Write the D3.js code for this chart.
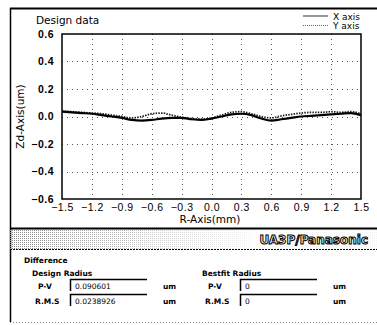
<!DOCTYPE html>
<html>
<head>
<meta charset="utf-8">
<script src="https://cdn.jsdelivr.net/npm/d3@7"></script>
<style>
  body { margin: 0; background: #fff; }
  svg { display: block; font-family: "DejaVu Sans", sans-serif; }
</style>
</head>
<body>
<div id="chart"></div>
<script>
// R positions (mm) and measured profiles (um)
const rValues = [-1.5, -1.4, -1.3, -1.2, -1.1, -1.0, -0.9, -0.8, -0.7, -0.6, -0.5, -0.4, -0.3, -0.2, -0.1,
  0.0, 0.1, 0.2, 0.3, 0.4, 0.5, 0.6, 0.7, 0.8, 0.9, 1.0, 1.1, 1.2, 1.3, 1.4, 1.5];
const xAxisValues = [0.035, 0.03, 0.025, 0.02, 0.01, 0.0, -0.01, -0.025, -0.03, -0.025, -0.015, -0.01, -0.01, -0.02, -0.025,
  -0.015, 0.0, 0.015, 0.02, 0.01, -0.015, -0.03, -0.02, -0.01, 0.0, 0.005, 0.01, 0.015, 0.02, 0.025, 0.01];
const yAxisValues = [0.04, 0.035, 0.03, 0.025, 0.02, 0.01, 0.0, -0.01, 0.0, 0.02, 0.025, 0.01, -0.005, -0.015, -0.02,
  -0.01, 0.01, 0.03, 0.035, 0.02, 0.0, -0.01, 0.005, 0.015, 0.025, 0.03, 0.03, 0.035, 0.03, 0.035, 0.02];
const xTicks = [-1.5, -1.2, -0.9, -0.6, -0.3, 0.0, 0.3, 0.6, 0.9, 1.2, 1.5];
const yTicks = [-0.6, -0.4, -0.2, 0.0, 0.2, 0.4, 0.6];
const seriesNames = ['X axis', 'Y axis'];

const designRows = [['P-V', '0.090601'], ['R.M.S', '0.0238926']];
const bestfitRows = [['P-V', '0'], ['R.M.S', '0']];

const width = 377, height = 325;
const marginLeft = 62, marginRight = 16, marginTop = 34, plotBottom = 199;

const svg = d3.select('#chart').append('svg')
  .attr('width', width).attr('height', height);

// outer frame
svg.append('line').attr('x1', 10).attr('x2', width).attr('y1', 8.5).attr('y2', 8.5)
  .attr('stroke', '#000').attr('stroke-width', 2);
svg.append('line').attr('x1', 10.5).attr('x2', 10.5).attr('y1', 8).attr('y2', 322)
  .attr('stroke', '#000').attr('stroke-width', 1.5);

const x = d3.scaleLinear().domain([-1.5, 1.5]).range([marginLeft, width - marginRight]);
const y = d3.scaleLinear().domain([-0.6, 0.6]).range([plotBottom, marginTop]);

// dotted grid
const grid = svg.append('g').attr('stroke', '#555').attr('stroke-width', 1).attr('stroke-dasharray', '1,4');
grid.selectAll('.gx').data(xTicks.slice(1, -1)).join('line')
  .attr('x1', d => Math.round(x(d)) + 0.5).attr('x2', d => Math.round(x(d)) + 0.5)
  .attr('y1', marginTop).attr('y2', plotBottom);
grid.selectAll('.gy').data(yTicks.slice(1, -1)).join('line')
  .attr('y1', d => Math.round(y(d)) + 0.5).attr('y2', d => Math.round(y(d)) + 0.5)
  .attr('x1', marginLeft).attr('x2', width - marginRight);

// plot box
svg.append('rect')
  .attr('x', marginLeft).attr('y', marginTop)
  .attr('width', width - marginRight - marginLeft).attr('height', plotBottom - marginTop)
  .attr('fill', 'none').attr('stroke', '#000').attr('stroke-width', 1.5);

// axes
svg.append('g')
  .attr('transform', `translate(0,${plotBottom})`)
  .call(d3.axisBottom(x).tickValues(xTicks).tickSize(0).tickPadding(5).tickFormat(d3.format('.1f')))
  .call(g => g.select('.domain').remove())
  .selectAll('text').style('font-size', '10.5px').style('letter-spacing', '0.5px').attr('fill', '#000')
  .text(d => d3.format('.1f')(d).replace('-', '\u2212'));

svg.append('g')
  .attr('transform', `translate(${marginLeft},0)`)
  .call(d3.axisLeft(y).tickValues(yTicks).tickSize(0).tickPadding(8).tickFormat(d3.format('.1f')))
  .call(g => g.select('.domain').remove())
  .selectAll('text').style('font-size', '10.5px').style('font-weight', 'bold').style('letter-spacing', '0.5px')
  .attr('fill', '#000')
  .text(d => d3.format('.1f')(d).replace('-', '\u2212'));

svg.append('text')
  .attr('x', 210).attr('y', 223)
  .attr('text-anchor', 'middle').style('font-size', '10.5px')
  .text('R-Axis(mm)');

svg.append('text')
  .attr('transform', `translate(24,${y(0)}) rotate(-90)`)
  .attr('text-anchor', 'middle').style('font-size', '10.5px')
  .text('Zd-Axis(um)');

svg.append('text')
  .attr('x', 36).attr('y', 24).style('font-size', '10.5px')
  .text('Design data');

// lines
const line = d3.line().x((d, i) => x(rValues[i])).y(d => y(d)).curve(d3.curveMonotoneX);

svg.append('path').datum(yAxisValues)
  .attr('fill', 'none').attr('stroke', '#222').attr('stroke-width', 1.8)
  .attr('stroke-dasharray', '1.5,1.2').attr('d', line);

svg.append('path').datum(xAxisValues)
  .attr('fill', 'none').attr('stroke', '#000').attr('stroke-width', 2.2)
  .attr('d', line);

// legend
const legend = svg.append('g');
seriesNames.forEach((name, i) => {
  const ly = 16 + i * 9.5;
  legend.append('line').attr('x1', 303).attr('x2', 328).attr('y1', ly).attr('y2', ly)
    .attr('stroke', i === 0 ? '#333' : '#666').attr('stroke-width', 1)
    .attr('stroke-dasharray', i === 0 ? null : '1,1');
  legend.append('text').attr('x', 333).attr('y', ly + 3.5)
    .style('font-size', '9px').text(name);
});

// divider band
const defs = svg.append('defs');
const pat = defs.append('pattern').attr('id', 'dots').attr('width', 2).attr('height', 2)
  .attr('patternUnits', 'userSpaceOnUse');
pat.append('rect').attr('width', 1).attr('height', 1).attr('fill', '#888');
const grad = defs.append('linearGradient').attr('id', 'fade');
grad.append('stop').attr('offset', '0%').attr('stop-color', '#fff').attr('stop-opacity', 0);
grad.append('stop').attr('offset', '100%').attr('stop-color', '#fff').attr('stop-opacity', 1);

svg.append('rect').attr('x', 10).attr('y', 229).attr('width', width - 10).attr('height', 20)
  .attr('fill', 'url(#dots)');
svg.append('rect').attr('x', 10).attr('y', 229).attr('width', 260).attr('height', 20)
  .attr('fill', 'url(#fade)');
svg.append('rect').attr('x', 270).attr('y', 229).attr('width', width - 270).attr('height', 20)
  .attr('fill', '#fff').attr('opacity', 0.9);
svg.append('line').attr('x1', 10).attr('x2', width).attr('y1', 228.5).attr('y2', 228.5)
  .attr('stroke', '#000').attr('stroke-width', 2);
svg.append('line').attr('x1', 10).attr('x2', width).attr('y1', 249.5).attr('y2', 249.5)
  .attr('stroke', '#000').attr('stroke-width', 1).attr('stroke-dasharray', '2,1');

svg.append('text').attr('x', 368).attr('y', 244).attr('text-anchor', 'end')
  .style('font-size', '12px').style('font-weight', 'bold')
  .attr('fill', '#fff').attr('stroke', '#000').attr('stroke-width', 1)
  .text('UA3P/Panasonic');

// difference panel
const panel = svg.append('g').style('font-size', '7.5px').style('font-weight', 'bold');
panel.append('text').attr('x', 24).attr('y', 263).text('Difference');

function drawGroup(x0, title, rows) {
  panel.append('text').attr('x', x0).attr('y', 276).text(title);
  rows.forEach((r, i) => {
    const ry = 284 + i * 15;
    panel.append('text').attr('x', x0 + (i === 0 ? 6 : 3)).attr('y', ry + 5).text(r[0]);
    const bx = x0 + 38;
    panel.append('rect').attr('x', bx).attr('y', ry - 5).attr('width', 77).attr('height', 12)
      .attr('fill', '#fff');
    panel.append('path').attr('d', `M${bx + 0.5},${ry + 7}V${ry - 4.5}H${bx + 77}`)
      .attr('fill', 'none').attr('stroke', '#000').attr('stroke-width', 1.5);
    panel.append('text').attr('x', bx + 5).attr('y', ry + 5).style('font-weight', 'normal').text(r[1]);
    panel.append('text').attr('x', bx + 93).attr('y', ry + 5).text('um');
  });
}
drawGroup(32, 'Design Radius', designRows);
drawGroup(202, 'Bestfit Radius', bestfitRows);

svg.append('line').attr('x1', 10).attr('x2', width).attr('y1', 322.5).attr('y2', 322.5)
  .attr('stroke', '#888').attr('stroke-width', 1).attr('stroke-dasharray', '1,2');
</script>
</body>
</html>
